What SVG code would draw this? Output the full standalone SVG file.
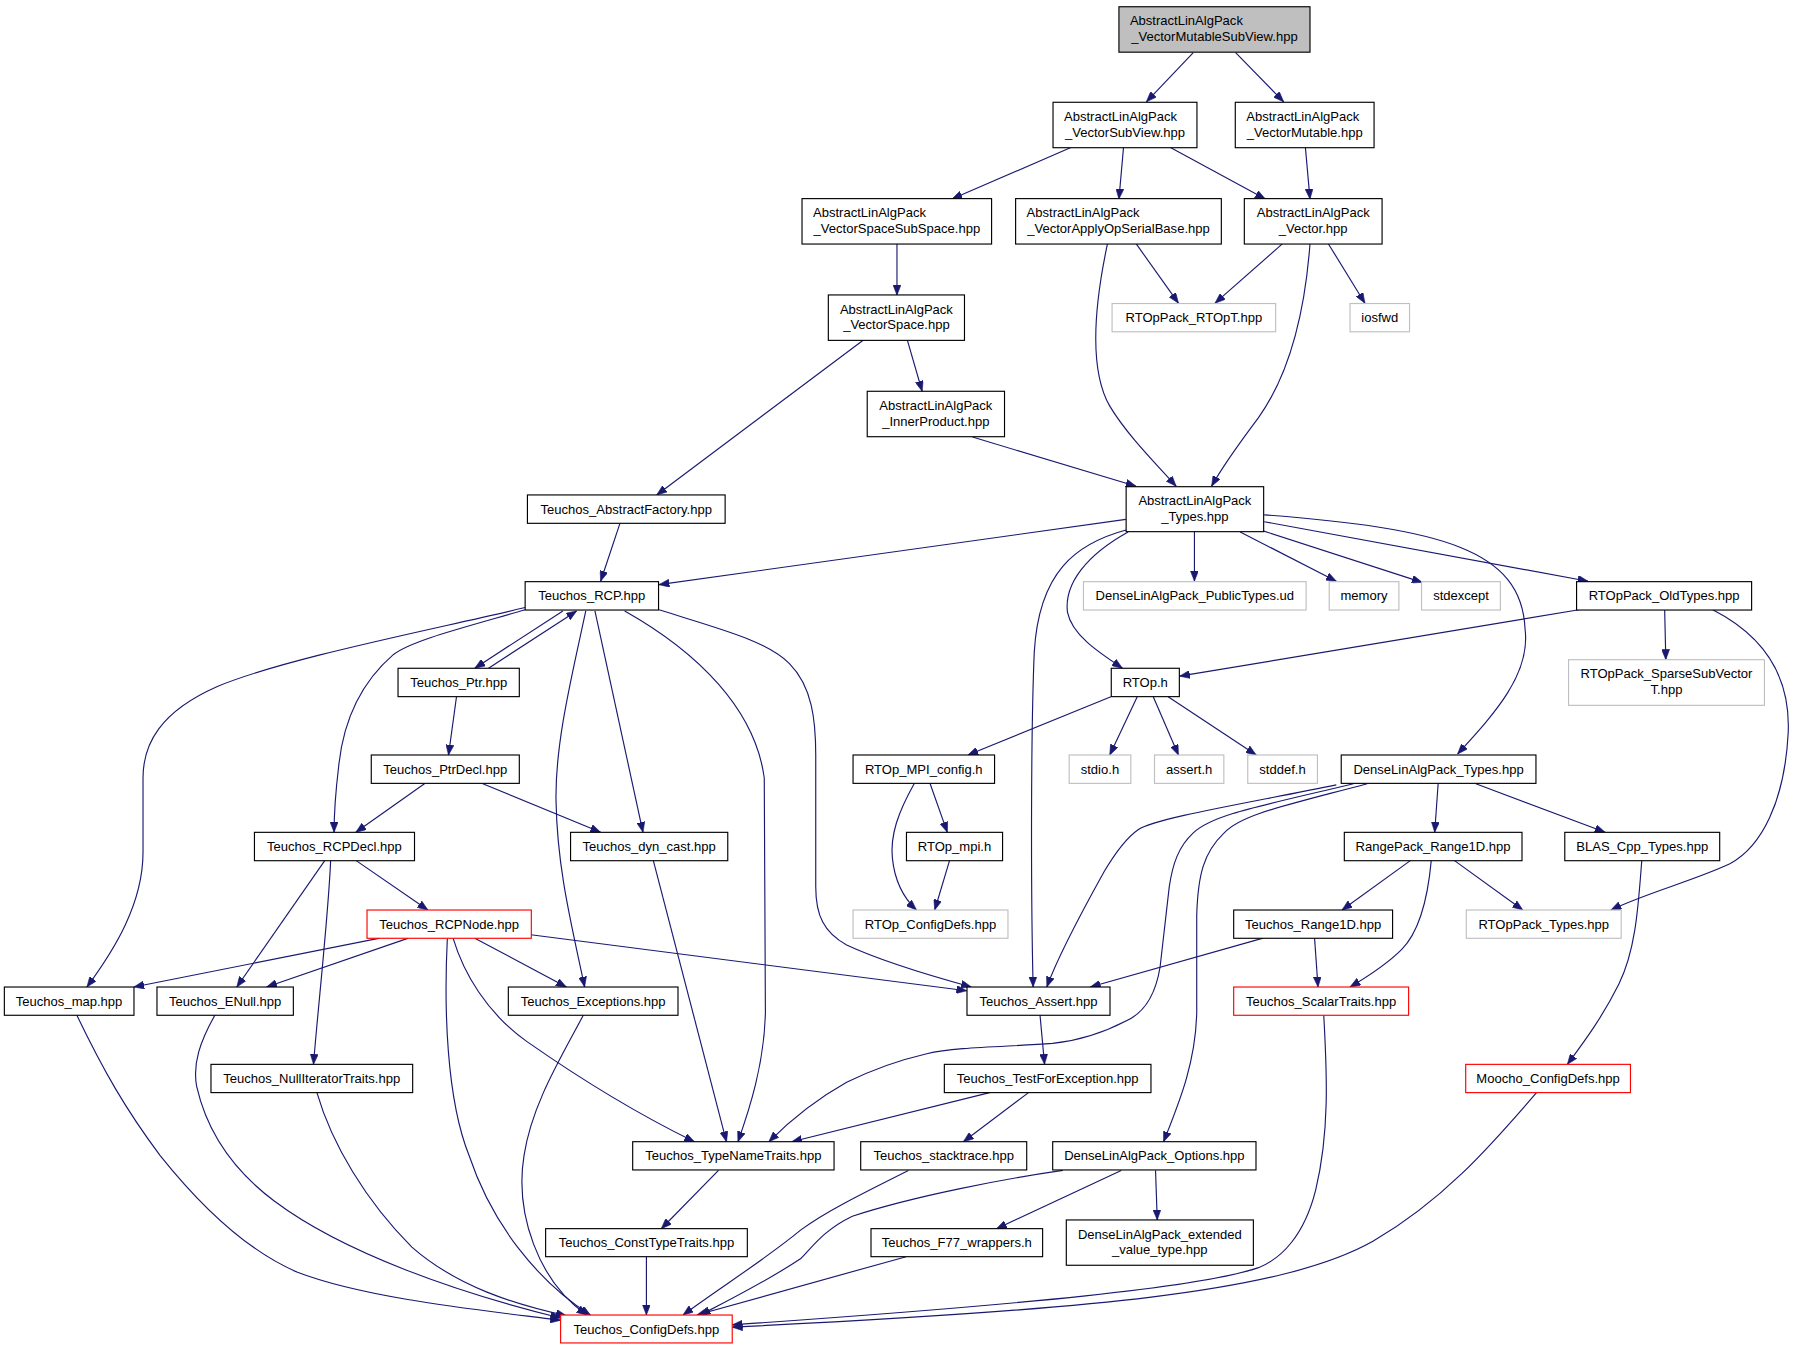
<svg xmlns="http://www.w3.org/2000/svg" width="1794" height="1349" viewBox="0 0 1794 1349">
<style>
.t{font-family:"Liberation Sans",Arial,Helvetica,sans-serif;font-size:11.4px;fill:#000}
.m{text-anchor:middle}
.b{fill:#fff;stroke:#000;stroke-width:1}
.g{fill:#fff;stroke:#bfbfbf;stroke-width:1}
.r{fill:#fff;stroke:#ff0000;stroke-width:1}
.k{fill:#bfbfbf;stroke:#000;stroke-width:1}
.e path{fill:none;stroke:#191970;stroke-width:1;marker-end:url(#a)}
</style>
<defs>
<marker id="a" viewBox="0 0 9 7" refX="9" refY="3.5" markerWidth="9" markerHeight="7" markerUnits="userSpaceOnUse" orient="auto">
<path d="M0,0 L9,3.5 L0,7 z" fill="#191970" stroke="#191970" stroke-width="0.5"/>
</marker>
</defs>
<rect x="0" y="0" width="1794" height="1349" fill="#ffffff"/>
<g transform="scale(1.1441)">
<g id="edges" class="e">
<path d="M1043,46 L1002,89"/>
<path d="M1080,46 L1122,89"/>
<path d="M936,129 L832,174"/>
<path d="M982,129 L978,174"/>
<path d="M1023,129 L1106,174"/>
<path d="M1141,129 L1145,174"/>
<path d="M784,213 L784,258"/>
<path d="M993,213 L1030,265"/>
<path d="M1121,213 L1062,265"/>
<path d="M1161,213 L1193,265"/>
<path d="M968,213 C958,260 950,320 970,355 C985,380 1010,405 1028,425"/>
<path d="M1145,213 C1140,280 1125,330 1100,365 C1085,385 1070,405 1059,425"/>
<path d="M755,297 L574,432.6"/>
<path d="M793,297 L806,342"/>
<path d="M850,382 L993,425"/>
<path d="M542,457 L525,508"/>
<path d="M984,454 L576,511"/>
<path d="M985,463 C940,475 908,500 904,570 C901,640 901,780 903,862.7"/>
<path d="M986,465 C950,485 930,510 933,535 C937,555 960,570 981,584"/>
<path d="M1044,465 L1044,508"/>
<path d="M1084,465 L1168,508"/>
<path d="M1104,464 L1243,509"/>
<path d="M1105,456 L1388,508"/>
<path d="M1105,450 C1260,462 1330,480 1333,550 C1338,590 1305,625 1274,659"/>
<path d="M1380,533 L1031,591"/>
<path d="M1455,533 L1456,576.6"/>
<path d="M1497,533 C1540,555 1565,590 1563,640 C1560,700 1540,740 1512,755 C1480,770 1440,780 1408,795.4"/>
<path d="M971,609 L846,659.9"/>
<path d="M994,609 L970,659.9"/>
<path d="M1008,609 L1030,659.9"/>
<path d="M1021,609 L1098,659.9"/>
<path d="M813,685 L828,727.5"/>
<path d="M799,685 C785,710 778,730 780,750 C782,770 790,785 801,795.4"/>
<path d="M830,752 L817,795.4"/>
<path d="M492,534 L415,584"/>
<path d="M427,584 L504,534"/>
<path d="M399,609 L392,660"/>
<path d="M371,685 L311,727.5"/>
<path d="M422,685 L525,727.5"/>
<path d="M459,533 C400,550 360,560 344,572 C315,597 300,630 296,670 C293,695 292,710 292,727.5"/>
<path d="M459,531 C380,550 250,575 190,600 C140,622 125,650 125,680 L125,745 C125,790 100,830 76,862.7"/>
<path d="M512,534 C500,590 485,650 486,700 C487,760 500,810 511,862.7"/>
<path d="M520,534 L562,727.5"/>
<path d="M546,534 C610,570 660,620 668,680 L669,885 C668,930 655,970 645,998"/>
<path d="M576,533 C630,550 670,560 690,580 C710,600 713,630 713,660 L713,775 C713,800 720,815 740,826 C770,840 810,852 849,862.7"/>
<path d="M571,752 L635,998"/>
<path d="M1168,686 C1090,702 1010,715 995,725 C985,732 975,745 965,762 C945,798 925,835 915,862.7"/>
<path d="M1183,685 C1100,705 1060,712 1043,728 C1030,740 1025,755 1022,775 L1014,845 C1010,870 1000,885 985,892 C960,905 940,910 920,912 C880,915 835,915 810,921 C780,928 760,936 740,946 C715,960 690,980 672,998"/>
<path d="M1195,685 C1120,705 1085,712 1070,728 C1052,745 1047,765 1046,800 L1046,885 C1045,930 1030,965 1017,998"/>
<path d="M1257,685 L1254,727.5"/>
<path d="M1290,685 L1403,727.5"/>
<path d="M311,752 L374,795.4"/>
<path d="M284,752 L207,862.7"/>
<path d="M289,752 C287,800 278,880 274,930.3"/>
<path d="M1233,752 L1173,795.4"/>
<path d="M1251,752 C1248,785 1240,815 1225,830 C1212,843 1198,852 1180,862.7"/>
<path d="M1271,752 L1331,795.4"/>
<path d="M1435,752 C1432,790 1430,830 1415,860 C1400,890 1385,910 1370,930.3"/>
<path d="M332,820 L117,862.7"/>
<path d="M357,820 L233,862.7"/>
<path d="M415,820 L495,862.7"/>
<path d="M464,817 L845,866"/>
<path d="M396,820 C405,850 425,885 460,910 C510,945 560,975 607,998"/>
<path d="M391,820 C388,880 390,960 410,1010 C430,1070 470,1120 516,1149.4"/>
<path d="M1104,820 L953,862.7"/>
<path d="M1149,820 L1152,862.7"/>
<path d="M67,887 C90,935 110,970 140,1010 C180,1060 220,1095 260,1112 C320,1135 420,1145 490,1154"/>
<path d="M188,887 C175,910 168,930 172,950 C180,985 200,1020 240,1050 C300,1095 400,1130 490,1152"/>
<path d="M510,887 C490,925 465,965 458,1010 C450,1060 470,1120 513,1149.4"/>
<path d="M909,887 L913,930.3"/>
<path d="M1157,887 C1160,940 1162,990 1150,1040 C1140,1080 1120,1100 1100,1108 C1050,1125 900,1140 640,1158"/>
<path d="M277,955 C290,1000 320,1050 360,1090 C400,1125 450,1140 495,1150"/>
<path d="M865,955 L692,998"/>
<path d="M899,955 L842,998"/>
<path d="M1343,955 C1300,1005 1260,1050 1200,1085 C1120,1130 950,1145 640,1160"/>
<path d="M628,1023 L578,1074"/>
<path d="M794,1023 C750,1045 720,1060 700,1075 C670,1100 630,1125 597,1149.4"/>
<path d="M929,1023 C880,1030 800,1045 745,1063 C720,1075 710,1090 700,1100 C670,1120 640,1135 612,1149.4"/>
<path d="M980,1023 L871,1074"/>
<path d="M1010,1023 L1011.5,1066.3"/>
<path d="M565,1098.4 L565,1149.4"/>
<path d="M792,1098.4 L609,1149.4"/>
</g>
<g id="nodes">
<g id="n1"><rect class="k" x="978" y="5.9" width="167" height="39.7"/><text class="t" x="987.6" y="22.2">AbstractLinAlgPack</text><text class="t m" x="1061.5" y="36">_VectorMutableSubView.hpp</text></g>
<g id="n2"><rect class="b" x="920.4" y="89.4" width="125.8" height="39.7"/><text class="t" x="930" y="105.7">AbstractLinAlgPack</text><text class="t m" x="983.3" y="119.5">_VectorSubView.hpp</text></g>
<g id="n3"><rect class="b" x="1079.7" y="89.4" width="121.3" height="39.7"/><text class="t" x="1089.3" y="105.7">AbstractLinAlgPack</text><text class="t m" x="1140.4" y="119.5">_VectorMutable.hpp</text></g>
<g id="n4"><rect class="b" x="701" y="173.6" width="165.7" height="39.7"/><text class="t" x="710.6" y="189.9">AbstractLinAlgPack</text><text class="t m" x="783.9" y="203.7">_VectorSpaceSubSpace.hpp</text></g>
<g id="n5"><rect class="b" x="887.7" y="173.6" width="179.8" height="39.7"/><text class="t" x="897.3" y="189.9">AbstractLinAlgPack</text><text class="t m" x="977.6" y="203.7">_VectorApplyOpSerialBase.hpp</text></g>
<g id="n6"><rect class="b" x="1087.6" y="173.6" width="120.4" height="39.7"/><text class="t m" x="1147.8" y="189.9">AbstractLinAlgPack</text><text class="t m" x="1147.8" y="203.7">_Vector.hpp</text></g>
<g id="n7"><rect class="b" x="724" y="257.8" width="119" height="39.7"/><text class="t m" x="783.5" y="274.1">AbstractLinAlgPack</text><text class="t m" x="783.5" y="287.9">_VectorSpace.hpp</text></g>
<g id="n8"><rect class="g" x="972" y="265.3" width="143" height="24.7"/><text class="t m" x="1043.5" y="281.6">RTOpPack_RTOpT.hpp</text></g>
<g id="n10"><rect class="g" x="1180" y="265.3" width="52" height="24.7"/><text class="t m" x="1206" y="281.6">iosfwd</text></g>
<g id="n11"><rect class="b" x="758" y="342" width="120" height="39.7"/><text class="t m" x="818" y="358.3">AbstractLinAlgPack</text><text class="t m" x="818" y="372.1">_InnerProduct.hpp</text></g>
<g id="n12"><rect class="b" x="461" y="432.6" width="172.8" height="24.8"/><text class="t m" x="547.4" y="448.9">Teuchos_AbstractFactory.hpp</text></g>
<g id="n13"><rect class="b" x="984.3" y="425.4" width="120.2" height="39.3"/><text class="t m" x="1044.4" y="441.7">AbstractLinAlgPack</text><text class="t m" x="1044.4" y="455.5">_Types.hpp</text></g>
<g id="n14"><rect class="b" x="459" y="508.4" width="116.6" height="24.8"/><text class="t m" x="517.3" y="524.7">Teuchos_RCP.hpp</text></g>
<g id="n15"><rect class="g" x="947" y="508.4" width="194.6" height="24.8"/><text class="t m" x="1044.3" y="524.7">DenseLinAlgPack_PublicTypes.ud</text></g>
<g id="n16"><rect class="g" x="1161.8" y="508.4" width="60.9" height="24.8"/><text class="t m" x="1192.2" y="524.7">memory</text></g>
<g id="n17"><rect class="g" x="1242.5" y="508.4" width="68.9" height="24.8"/><text class="t m" x="1277" y="524.7">stdexcept</text></g>
<g id="n18"><rect class="b" x="1378" y="508.4" width="153" height="24.8"/><text class="t m" x="1454.5" y="524.7">RTOpPack_OldTypes.hpp</text></g>
<g id="n19"><rect class="b" x="347.9" y="584.1" width="106" height="24.8"/><text class="t m" x="400.9" y="600.4">Teuchos_Ptr.hpp</text></g>
<g id="n20"><rect class="b" x="971.3" y="584.1" width="59.5" height="24.8"/><text class="t m" x="1001" y="600.4">RTOp.h</text></g>
<g id="n21"><rect class="g" x="1371" y="576.6" width="171.2" height="39.9"/><text class="t m" x="1456.6" y="592.9">RTOpPack_SparseSubVector</text><text class="t m" x="1456.6" y="606.7">T.hpp</text></g>
<g id="n22"><rect class="b" x="324.5" y="659.9" width="129.4" height="24.8"/><text class="t m" x="389.2" y="676.2">Teuchos_PtrDecl.hpp</text></g>
<g id="n23"><rect class="b" x="745.6" y="659.9" width="123.7" height="24.8"/><text class="t m" x="807.4" y="676.2">RTOp_MPI_config.h</text></g>
<g id="n24"><rect class="g" x="934.5" y="659.9" width="53.9" height="24.8"/><text class="t m" x="961.4" y="676.2">stdio.h</text></g>
<g id="n25"><rect class="g" x="1009.1" y="659.9" width="60.6" height="24.8"/><text class="t m" x="1039.4" y="676.2">assert.h</text></g>
<g id="n26"><rect class="g" x="1090.6" y="659.9" width="60.9" height="24.8"/><text class="t m" x="1121" y="676.2">stddef.h</text></g>
<g id="n27"><rect class="b" x="1172.3" y="659.9" width="170.2" height="24.8"/><text class="t m" x="1257.4" y="676.2">DenseLinAlgPack_Types.hpp</text></g>
<g id="n28"><rect class="b" x="222.4" y="727.5" width="139.9" height="24.8"/><text class="t m" x="292.3" y="743.8">Teuchos_RCPDecl.hpp</text></g>
<g id="n29"><rect class="b" x="498.7" y="727.5" width="137.4" height="24.8"/><text class="t m" x="567.4" y="743.8">Teuchos_dyn_cast.hpp</text></g>
<g id="n30"><rect class="b" x="792.3" y="727.5" width="84" height="24.8"/><text class="t m" x="834.3" y="743.8">RTOp_mpi.h</text></g>
<g id="n31"><rect class="b" x="1175" y="727.5" width="155.3" height="24.8"/><text class="t m" x="1252.6" y="743.8">RangePack_Range1D.hpp</text></g>
<g id="n32"><rect class="b" x="1367.7" y="727.5" width="135.4" height="24.8"/><text class="t m" x="1435.4" y="743.8">BLAS_Cpp_Types.hpp</text></g>
<g id="n33"><rect class="g" x="745.6" y="795.4" width="135.4" height="24.7"/><text class="t m" x="813.3" y="811.7">RTOp_ConfigDefs.hpp</text></g>
<g id="n34"><rect class="r" x="320.8" y="795.4" width="143.6" height="24.7"/><text class="t m" x="392.6" y="811.7">Teuchos_RCPNode.hpp</text></g>
<g id="n35"><rect class="b" x="1078.3" y="795.4" width="138.9" height="24.7"/><text class="t m" x="1147.7" y="811.7">Teuchos_Range1D.hpp</text></g>
<g id="n36"><rect class="g" x="1281.6" y="795.4" width="135.4" height="24.7"/><text class="t m" x="1349.3" y="811.7">RTOpPack_Types.hpp</text></g>
<g id="n37"><rect class="b" x="3.8" y="862.7" width="113.3" height="24.7"/><text class="t m" x="60.4" y="879">Teuchos_map.hpp</text></g>
<g id="n38"><rect class="b" x="137.2" y="862.7" width="119.2" height="24.7"/><text class="t m" x="196.8" y="879">Teuchos_ENull.hpp</text></g>
<g id="n39"><rect class="b" x="444.3" y="862.7" width="148.3" height="24.7"/><text class="t m" x="518.4" y="879">Teuchos_Exceptions.hpp</text></g>
<g id="n40"><rect class="b" x="845.2" y="862.7" width="125" height="24.7"/><text class="t m" x="907.7" y="879">Teuchos_Assert.hpp</text></g>
<g id="n41"><rect class="r" x="1078.3" y="862.7" width="152.9" height="24.7"/><text class="t m" x="1154.7" y="879">Teuchos_ScalarTraits.hpp</text></g>
<g id="n42"><rect class="b" x="184.4" y="930.3" width="176.3" height="24.7"/><text class="t m" x="272.5" y="946.6">Teuchos_NullIteratorTraits.hpp</text></g>
<g id="n43"><rect class="b" x="825.4" y="930.3" width="180.6" height="24.7"/><text class="t m" x="915.7" y="946.6">Teuchos_TestForException.hpp</text></g>
<g id="n44"><rect class="r" x="1281.1" y="930.3" width="144" height="24.7"/><text class="t m" x="1353.1" y="946.6">Moocho_ConfigDefs.hpp</text></g>
<g id="n45"><rect class="b" x="553" y="997.9" width="176" height="24.7"/><text class="t m" x="641" y="1014.2">Teuchos_TypeNameTraits.hpp</text></g>
<g id="n46"><rect class="b" x="752.3" y="997.9" width="145.1" height="24.7"/><text class="t m" x="824.8" y="1014.2">Teuchos_stacktrace.hpp</text></g>
<g id="n47"><rect class="b" x="920.1" y="997.9" width="177.7" height="24.7"/><text class="t m" x="1009" y="1014.2">DenseLinAlgPack_Options.hpp</text></g>
<g id="n48"><rect class="b" x="476.9" y="1073.9" width="176.3" height="24.5"/><text class="t m" x="565" y="1090.2">Teuchos_ConstTypeTraits.hpp</text></g>
<g id="n49"><rect class="b" x="761.3" y="1073.9" width="150" height="24.5"/><text class="t m" x="836.3" y="1090.2">Teuchos_F77_wrappers.h</text></g>
<g id="n50"><rect class="b" x="932" y="1066.3" width="163.5" height="39.6"/><text class="t m" x="1013.7" y="1082.6">DenseLinAlgPack_extended</text><text class="t m" x="1013.7" y="1096.4">_value_type.hpp</text></g>
<g id="n51"><rect class="r" x="490" y="1149.4" width="150" height="24.4"/><text class="t m" x="565" y="1165.7">Teuchos_ConfigDefs.hpp</text></g>
</g>
</g>
</svg>
